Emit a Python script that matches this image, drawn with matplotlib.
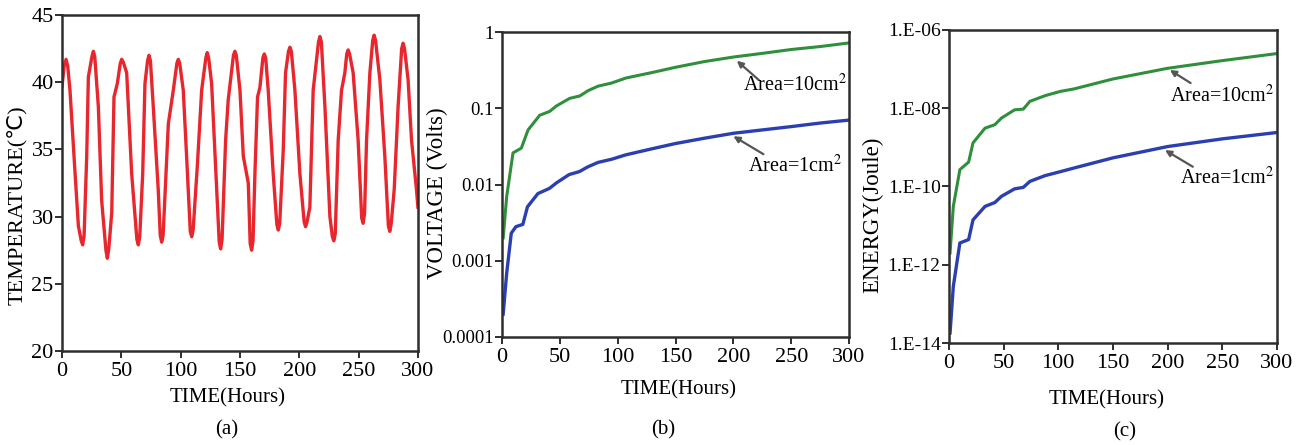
import matplotlib
matplotlib.use('Agg')
import matplotlib.pyplot as plt

plt.rcParams['font.family'] = ['Liberation Serif', 'DejaVu Serif']
plt.rcParams['mathtext.fontset'] = 'stix'

# --- (a) temperature readings (hours, deg C) ---
temp_time = [0, 1.8, 3.4, 4.8, 6.7, 11, 13.8, 16.2, 17.4, 18.6, 20.8, 22.2, 25.2, 26.4, 27.6,
             30.6, 33.4, 37.0, 38.2, 39.4, 41.9, 43.8, 46.6, 49.1, 50.3, 51.6, 54.5, 58.7,
             63.1, 64.3, 65.5, 68, 69.9, 72.1, 73.3, 74.5, 76.9, 81.1, 82.8, 84, 85.2, 89.6,
             93.8, 96.8, 98, 99.2, 102.2, 105, 108.1, 109.3, 110.5, 114, 117.7, 121.2, 122.4,
             123.6, 126.1, 129.7, 132.5, 133.7, 134.9, 137.9, 140.1, 144.5, 145.7, 146.9,
             150, 152.8, 157, 158.6, 159.8, 161.0, 162.6, 164.8, 166.8, 169.3, 170.5, 171.7,
             173.8, 178, 181.1, 182.3, 183.5, 186.5, 188.4, 190.9, 192.1, 193.3, 196.3,
             200.5, 204.1, 205.3, 206.5, 208.9, 211.7, 216.2, 217.4, 218.6, 221.6, 225.8,
             227.9, 229.1, 230.3, 232.8, 235.6, 238.4, 240.0, 241.2, 242.4, 245.4, 249.6,
             252.6, 253.8, 255.0, 256.7, 259.5, 261.9, 263.1, 264.3, 267.9, 272.1, 275.1,
             276.3, 277.5, 280, 283.3, 286.3, 287.5, 288.7, 291.7, 294.6, 298.8, 300]
temp_val = [39.7, 41.2, 41.7, 41.2, 39.4, 33.2, 29.3, 28.2, 27.9, 28.6, 34.5, 40.4, 41.9, 42.3,
            41.9, 38.2, 31.2, 27.5, 26.9, 27.6, 30.3, 38.9, 39.9, 41.4, 41.7, 41.5, 40.7, 33.2,
            28.3, 27.9, 28.5, 33.2, 39.9, 41.6, 42.0, 41.6, 38.2, 32.0, 28.6, 28.1, 28.6, 36.9,
            39.4, 41.4, 41.7, 41.4, 39.4, 34.5, 28.9, 28.5, 29.0, 33.7, 39.4, 41.8, 42.2, 41.8,
            39.9, 33.2, 28.1, 27.6, 28.3, 35.7, 38.7, 42.0, 42.3, 42.0, 39.4, 34.5, 32.5, 28.0,
            27.5, 28.2, 33.2, 38.9, 39.6, 41.8, 42.1, 41.8, 39.4, 33.2, 29.4, 29.0, 29.5, 35.0,
            40.7, 42.3, 42.6, 42.3, 39.4, 33.2, 29.6, 29.25, 29.6, 30.7, 39.4, 43.0, 43.4, 43.0,
            38.2, 30.0, 28.5, 28.2, 28.7, 35.7, 39.4, 40.7, 42.1, 42.4, 42.1, 40.7, 35.7, 29.9,
            29.5, 30.2, 35.7, 40.7, 43.1, 43.5, 43.1, 40.2, 34.5, 29.3, 28.9, 29.5, 32.0, 38.2,
            42.5, 42.9, 42.5, 40.2, 35.7, 32.0, 30.7]

# --- (b) voltage ---
v1_time = [1, 4, 8, 12, 18, 22, 31, 41, 47, 58, 67, 74, 83, 95, 107, 130, 150, 175, 200, 225,
           250, 275, 300]
v1_val = [2.0e-4, 6.8e-4, 2.3e-3, 2.8e-3, 3.0e-3, 5.1e-3, 7.6e-3, 8.9e-3, 1.05e-2, 1.35e-2,
          1.48e-2, 1.7e-2, 1.95e-2, 2.15e-2, 2.45e-2, 2.95e-2, 3.45e-2, 4.05e-2, 4.7e-2,
          5.2e-2, 5.75e-2, 6.4e-2, 7.0e-2]
v10_time = [1, 4, 9.5, 16.7, 22.5, 32.6, 41.2, 46.9, 58.5, 67.2, 74.3, 83, 94.5, 107.4, 130,
            150, 175, 200, 225, 250, 275, 300]
v10_val = [2.0e-3, 6.9e-3, 2.6e-2, 3.0e-2, 5.2e-2, 8.1e-2, 9.1e-2, 0.107, 0.135, 0.145, 0.17,
           0.195, 0.214, 0.25, 0.295, 0.345, 0.41, 0.47, 0.525, 0.59, 0.645, 0.72]

# --- (c) energy ---
e_time = [1, 4, 10, 18, 22, 33, 42, 48, 60, 68, 74, 88, 102, 114, 150, 200, 250, 300]
e1_val = [1.8e-14, 2.8e-13, 3.6e-12, 4.4e-12, 1.4e-11, 3.1e-11, 3.9e-11, 5.6e-11, 8.7e-11,
          9.5e-11, 1.35e-10, 1.9e-10, 2.4e-10, 2.95e-10, 5.4e-10, 1.05e-9, 1.65e-9, 2.4e-9]
e10_val = [2.0e-12, 3.1e-11, 2.7e-10, 4.2e-10, 1.3e-9, 3.1e-9, 3.8e-9, 5.6e-9, 9.1e-9,
           9.5e-9, 1.5e-8, 2.1e-8, 2.7e-8, 3.1e-8, 5.6e-8, 1.05e-7, 1.65e-7, 2.5e-7]

x_ticks = [0, 50, 100, 150, 200, 250, 300]
temp_ticks = [20, 25, 30, 35, 40, 45]
volt_ticks = [1e-4, 1e-3, 1e-2, 1e-1, 1]
volt_labels = ['0.0001', '0.001', '0.01', '0.1', '1']
energy_ticks = [1e-14, 1e-12, 1e-10, 1e-8, 1e-6]
energy_labels = ['1.E-14', '1.E-12', '1.E-10', '1.E-08', '1.E-06']

RED = '#e8262e'
GREEN = '#2f8f3c'
BLUE = '#2b3fb0'
SPINE = '#2e2e2e'

fig = plt.figure(figsize=(13.06, 4.45), dpi=100)
ax_a = fig.add_axes([0.0475, 0.2112, 0.2725, 0.7551])
ax_b = fig.add_axes([0.3844, 0.2427, 0.2657, 0.6853])
ax_c = fig.add_axes([0.7266, 0.2292, 0.2512, 0.7034])


def style(ax, ysize):
    for s in ax.spines.values():
        s.set_color(SPINE)
        s.set_linewidth(1.8)
    ax.tick_params(axis='both', direction='out', length=5, width=1.4, color=SPINE,
                   top=False, right=False)
    ax.tick_params(axis='x', labelsize=16, pad=3)
    ax.tick_params(axis='y', labelsize=ysize, pad=1)
    ax.minorticks_off()
    ax.set_xlim(0, 300)
    ax.set_xticks(x_ticks)


# (a)
ax_a.plot(temp_time, temp_val, color=RED, lw=2.4, solid_joinstyle='round')
style(ax_a, 16)
ax_a.set_ylim(20, 45)
ax_a.set_yticks(temp_ticks)
ax_a.set_xlabel('TIME(Hours)', fontsize=15)
ax_a.set_ylabel('TEMPERATURE(℃)', fontsize=16, family=['Liberation Serif', 'DejaVu Sans'])
ax_a.yaxis.set_label_coords(-0.098, 0.435)
ax_a.xaxis.set_label_coords(0.465, -0.110)

# (b)
ax_b.plot(v10_time, v10_val, color=GREEN, lw=2.2)
ax_b.plot(v1_time, v1_val, color=BLUE, lw=2.4)
ax_b.set_yscale('log')
style(ax_b, 13.5)
ax_b.set_ylim(1e-4, 1)
ax_b.set_yticks(volt_ticks)
ax_b.set_yticklabels(volt_labels)
ax_b.minorticks_off()
ax_b.set_xlabel('TIME(Hours)', fontsize=15)
ax_b.set_ylabel('VOLTAGE (Volts)', fontsize=16.5)
ax_b.yaxis.set_label_coords(-0.156, 0.472)
ax_b.xaxis.set_label_coords(0.51, -0.141)
arrow = dict(arrowstyle='-|>', color='#555555', lw=1.6, mutation_scale=9,
             shrinkA=0, shrinkB=0)
ax_b.annotate('', xy=(203, 0.42), xytext=(222, 0.235), arrowprops=arrow)
ax_b.text(208, 0.2, 'Area=10cm$^2$', fontsize=14.5, va='center', ha='left')
ax_b.annotate('', xy=(200, 0.043), xytext=(226, 0.025), arrowprops=arrow)
ax_b.text(213, 0.0175, 'Area=1cm$^2$', fontsize=14.5, va='center', ha='left')

# (c)
ax_c.plot(e_time, e10_val, color=GREEN, lw=2.2)
ax_c.plot(e_time, e1_val, color=BLUE, lw=2.4)
ax_c.set_yscale('log')
style(ax_c, 14)
ax_c.set_ylim(1e-14, 1e-6)
ax_c.set_yticks(energy_ticks)
ax_c.set_yticklabels(energy_labels)
ax_c.minorticks_off()
ax_c.set_xlabel('TIME(Hours)', fontsize=15)
ax_c.set_ylabel('ENERGY(Joule)', fontsize=16.5)
ax_c.yaxis.set_label_coords(-0.201, 0.409)
ax_c.xaxis.set_label_coords(0.48, -0.150)
ax_c.annotate('', xy=(202, 9.5e-8), xytext=(221, 4.4e-8), arrowprops=arrow)
ax_c.text(202, 2.0e-8, 'Area=10cm$^2$', fontsize=14.5, va='center', ha='left')
ax_c.annotate('', xy=(197.6, 8.5e-10), xytext=(223, 3.2e-10), arrowprops=arrow)
ax_c.text(211, 1.65e-10, 'Area=1cm$^2$', fontsize=14.5, va='center', ha='left')

# panel letters
fig.text(227 / 1306, 1 - 430 / 445, '(a)', fontsize=15, ha='center', va='center')
fig.text(663 / 1306, 1 - 430 / 445, '(b)', fontsize=15, ha='center', va='center')
fig.text(1125 / 1306, 1 - 432 / 445, '(c)', fontsize=15, ha='center', va='center')

fig.savefig('out.png', dpi=100)
